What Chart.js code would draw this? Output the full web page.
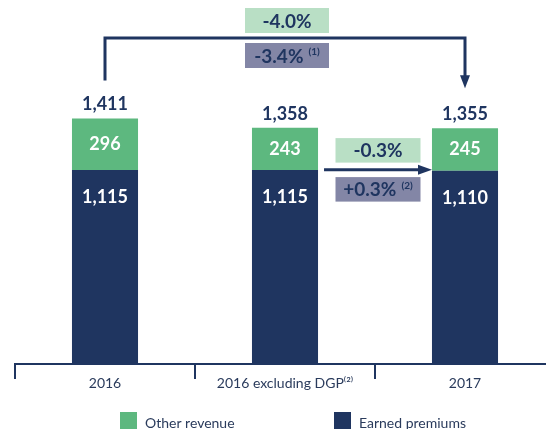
<!DOCTYPE html>
<html>
<head>
<meta charset="utf-8">
<script src="https://cdn.jsdelivr.net/npm/chart.js@4"></script>
<style>
  html, body { margin: 0; padding: 0; background: #fff; overflow: hidden; }
  #wrap { width: 546px; height: 429px; overflow: hidden; }
</style>
</head>
<body>
<div id="wrap"><canvas id="revenueChart" width="560" height="429"></canvas></div>
<script>
// Chart data
const categories = ['2016', '2016 excluding DGP\u207D\u00B2\u207E', '2017'];
const earnedPremiums = [1115, 1115, 1110];
const otherRevenue = [296, 243, 245];
const totals = [1411, 1358, 1355];

// change boxes: [text, superscript]
const totalChange = ['-4.0%', ''];
const totalChangeAdj = ['-3.4%', '(1)'];
const dgpChange = ['-0.3%', ''];
const dgpChangeAdj = ['+0.3%', '(2)'];

const NAVY = '#1f3560';
const GREEN = '#5db87f';
const LIGHT_GREEN = '#b9dfc5';
const PURPLE = '#8386a6';
const FONT = 'Lato, "Open Sans", sans-serif';

function fmt(v) {
    return v.toLocaleString('en-US');
}

function drawBox(ctx, cx, cy, w, h, fill, parts) {
    ctx.fillStyle = fill;
    ctx.fillRect(cx - w / 2, cy - h / 2, w, h);
    ctx.fillStyle = NAVY;
    ctx.font = 'bold 19px ' + FONT;
    const mainW = ctx.measureText(parts[0]).width;
    ctx.font = 'bold 10px ' + FONT;
    const supW = parts[1] ? ctx.measureText(parts[1]).width + 5 : 0;
    let left = cx - (mainW + supW) / 2;
    ctx.textAlign = 'left';
    ctx.textBaseline = 'middle';
    ctx.font = 'bold 19px ' + FONT;
    ctx.fillText(parts[0], left, cy + 1);
    if (parts[1]) {
        ctx.font = 'bold 10px ' + FONT;
        ctx.fillText(parts[1], left + mainW + 5, cy - 4);
    }
}

// value labels, bracket arrow and change boxes
const annotatePlugin = {
    id: 'annotate',
    afterDatasetsDraw(chart) {
        const ctx = chart.ctx;
        const xs = chart.scales.x;
        const ys = chart.scales.y;
        ctx.save();
        ctx.textAlign = 'center';
        ctx.textBaseline = 'middle';

        // values inside the segments
        chart.data.datasets.forEach((ds, di) => {
            chart.getDatasetMeta(di).data.forEach((bar, i) => {
                ctx.font = 'bold 18px ' + FONT;
                ctx.fillStyle = '#ffffff';
                const yy = di === 0 ? bar.y + 27 : (bar.y + bar.base) / 2;
                ctx.fillText(fmt(ds.data[i]), bar.x, yy);
            });
        });

        // totals above the bars
        ctx.font = 'bold 18px ' + FONT;
        ctx.fillStyle = NAVY;
        totals.forEach((t, i) => {
            const top = ys.getPixelForValue(t);
            ctx.fillText(fmt(t), xs.getPixelForValue(i), top - 14);
        });

        // bracket from 2016 to 2017
        const x1 = xs.getPixelForValue(0);
        const x2 = xs.getPixelForValue(2);
        const yTop = 38;
        const yLeft = ys.getPixelForValue(totals[0]) - 38;
        const yRight = ys.getPixelForValue(totals[2]) - 40;
        ctx.strokeStyle = NAVY;
        ctx.fillStyle = NAVY;
        ctx.lineWidth = 3;
        ctx.beginPath();
        ctx.moveTo(x1, yLeft);
        ctx.lineTo(x1, yTop);
        ctx.lineTo(x2, yTop);
        ctx.lineTo(x2, yRight - 10);
        ctx.stroke();
        ctx.beginPath();
        ctx.moveTo(x2 - 5, yRight - 13);
        ctx.lineTo(x2 + 5, yRight - 13);
        ctx.lineTo(x2, yRight);
        ctx.closePath();
        ctx.fill();

        // arrow from DGP-adjusted bar to 2017
        const barHalf = chart.getDatasetMeta(0).data[1].width / 2;
        const ax1 = xs.getPixelForValue(1) + barHalf + 6;
        const ax2 = xs.getPixelForValue(2) - barHalf;
        const ay = ys.getPixelForValue(earnedPremiums[2]) - 1;
        ctx.beginPath();
        ctx.moveTo(ax1, ay);
        ctx.lineTo(ax2 - 10, ay);
        ctx.stroke();
        ctx.beginPath();
        ctx.moveTo(ax2 - 14, ay - 5);
        ctx.lineTo(ax2, ay);
        ctx.lineTo(ax2 - 14, ay + 5);
        ctx.closePath();
        ctx.fill();

        // change boxes
        const bcx = (x1 + x2) / 2 + 2;
        drawBox(ctx, bcx, yTop - 17.5, 84, 25, LIGHT_GREEN, totalChange);
        drawBox(ctx, bcx, yTop + 17.5, 84, 25, PURPLE, totalChangeAdj);
        const mcx = (ax1 + ax2) / 2;
        drawBox(ctx, mcx, ay - 19.5, 85, 24.5, LIGHT_GREEN, dgpChange);
        drawBox(ctx, mcx, ay + 19.5, 85, 24.5, PURPLE, dgpChangeAdj);

        // legend at the bottom
        const legendItems = [
            { label: chart.data.datasets[1].label, color: GREEN, x: 120 },
            { label: chart.data.datasets[0].label, color: NAVY, x: 334 }
        ];
        ctx.font = '14px ' + FONT;
        ctx.textAlign = 'left';
        legendItems.forEach(item => {
            ctx.fillStyle = item.color;
            ctx.fillRect(item.x, 412, 17, 17);
            ctx.fillStyle = '#2a3b5c';
            ctx.fillText(item.label, item.x + 25, 423);
        });
        ctx.restore();
    }
};

const ctx = document.getElementById('revenueChart').getContext('2d');
const revenueChart = new Chart(ctx, {
    type: 'bar',
    data: {
        labels: categories,
        datasets: [{
            label: 'Earned premiums',
            data: earnedPremiums,
            backgroundColor: NAVY,
            barPercentage: 0.367,
            categoryPercentage: 1.0
        }, {
            label: 'Other revenue',
            data: otherRevenue,
            backgroundColor: GREEN,
            barPercentage: 0.367,
            categoryPercentage: 1.0
        }]
    },
    options: {
        responsive: false,
        animation: false,
        layout: {
            padding: { top: 16, left: 15, right: 5, bottom: 35 }
        },
        plugins: {
            legend: { display: false },
            tooltip: { enabled: false }
        },
        scales: {
            x: {
                stacked: true,
                afterFit: (scale) => { scale.height = 30; },
                border: { color: NAVY, width: 2 },
                grid: {
                    offset: true,
                    drawOnChartArea: false,
                    color: NAVY,
                    lineWidth: 2,
                    tickLength: 15
                },
                ticks: {
                    padding: -4,
                    color: '#2a3b5c',
                    font: { family: FONT, size: 14 }
                }
            },
            y: {
                stacked: true,
                display: false,
                min: 0,
                max: 2000
            }
        }
    },
    plugins: [annotatePlugin]
});
</script>
</body>
</html>
